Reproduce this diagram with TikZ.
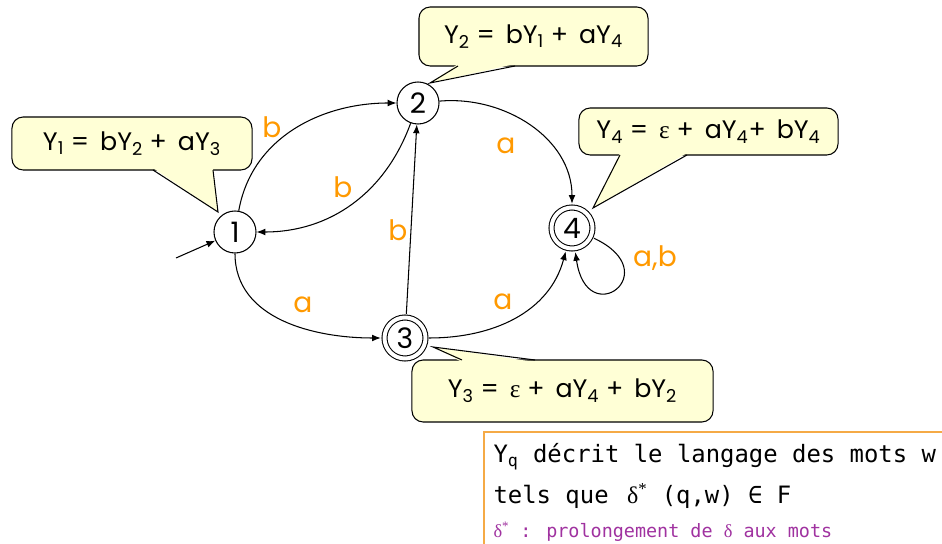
\documentclass[tikz,border=0pt]{standalone}
\usepackage{fontspec}
\setmainfont{Poppins}
\newfontfamily\grk{Liberation Serif}
\newfontfamily\mono{DejaVu Sans Mono}
\usetikzlibrary{arrows.meta}
\definecolor{lblorange}{RGB}{255,153,0}
\definecolor{bubble}{RGB}{255,255,214}
\definecolor{notepurple}{RGB}{160,50,160}
\definecolor{noteorange}{RGB}{245,170,70}

\begin{document}
\begin{tikzpicture}[x=0.025cm, y=0.025cm, >={Latex[length=2.2mm,width=1.7mm]}, line width=0.75pt,
	state/.style={circle, draw, minimum size=1.05cm, inner sep=0pt, font=\fontsize{20}{20}\selectfont},
	final/.style={state, double, double distance=2.8pt, minimum size=1.025cm, outer sep=2.6pt},
	lbl/.style={text=lblorange, font=\fontsize{20}{20}\selectfont},
	eqn/.style={rectangle, draw, fill=bubble, rounded corners=8pt, inner sep=0pt, font=\fontsize{18}{18}\selectfont}]
	\useasboundingbox (0,0) rectangle (942,-544);

	% the four states
	\node[state] (s1) at (235,-232) {1};
	\node[state] (s2) at (418,-103) {2};
	\node[final] (s3) at (405,-338) {3};
	\node[final] (s4) at (572,-228) {4};
	\coordinate (init) at (176,-258);

	% transitions
	\draw[->] (init) -- (s1);
	\draw[->] (s1) to[out=80,in=180] (s2);
	\draw[->] (s2) to[out=250,in=0] (s1);
	\draw[->] (s1) to[out=270,in=180] (s3);
	\draw[->] (s3) -- (s2);
	\draw[->] (s2) to[out=5,in=90] (s4);
	\draw[->] (s3) to[out=0,in=255] (s4);
	\draw[->] (s4) to[out=-25,in=-82,looseness=9] (s4);

	\node[lbl] (l12) at (272,-127) {b};
	\node[lbl] (l21) at (343,-187) {b};
	\node[lbl] (l32) at (398,-230) {b};
	\node[lbl] (l24) at (506,-146) {a};
	\node[lbl] (l13) at (303,-305) {a};
	\node[lbl] (l34) at (503,-302) {a};
	\node[lbl] (l44) at (655,-258) {a,b};

	% equation bubbles
	\node[eqn, minimum width=6cm, minimum height=1.325cm] (e1) at (132,-143.5) {Y\textsubscript{1} =\, bY\textsubscript{2} +\, aY\textsubscript{3}};
	\fill[bubble] (153,-168) -- (218,-212) -- (213,-168) -- cycle;
	\draw (153,-170) -- (218,-212) -- (213,-170);

	\node[eqn, minimum width=5.725cm, minimum height=1.475cm] (e2) at (533.5,-36.5) {Y\textsubscript{2} =\, bY\textsubscript{1} +\, aY\textsubscript{4}};
	\fill[bubble] (458,-64) -- (430,-83) -- (515,-64) -- cycle;
	\draw (458,-66) -- (430,-83) -- (515,-66);

	\node[eqn, minimum width=6.475cm, minimum height=1.175cm] (e4) at (708.5,-131.5) {Y\textsubscript{4} =\, {\grk ε} +\, aY\textsubscript{4}+\, bY\textsubscript{4}};
	\fill[bubble] (620,-153) -- (593,-208) -- (687,-153) -- cycle;
	\draw (620,-155) -- (593,-208) -- (687,-155);

	\node[eqn, minimum width=7.525cm, minimum height=1.55cm] (e3) at (562.5,-391) {Y\textsubscript{3} =\, {\grk ε} +\, aY\textsubscript{4} +\, bY\textsubscript{2}};
	\fill[bubble] (462,-362) -- (433,-347) -- (535,-362) -- cycle;
	\draw (462,-360) -- (433,-347) -- (535,-360);

	% note
	\draw[noteorange, fill=white] (484,-432) rectangle (960,-560);
	\node[anchor=base west, inner sep=0pt, font=\mono\fontsize{17}{17}\selectfont] (n1) at (493,-463) {Y\textsubscript{q} décrit le langage des mots w};
	\node[anchor=base west, inner sep=0pt, font=\mono\fontsize{17}{17}\selectfont] (n2) at (493,-503) {tels que\, {\grk δ\textsuperscript{*}} (q,w) ∈ F};
	\node[anchor=base west, inner sep=0pt, text=notepurple, font=\mono\fontsize{13.1}{13}\selectfont] (n3) at (493,-537) {{\grk δ\textsuperscript{*}} : prolongement de {\grk δ} aux mots};
\end{tikzpicture}
\end{document}
